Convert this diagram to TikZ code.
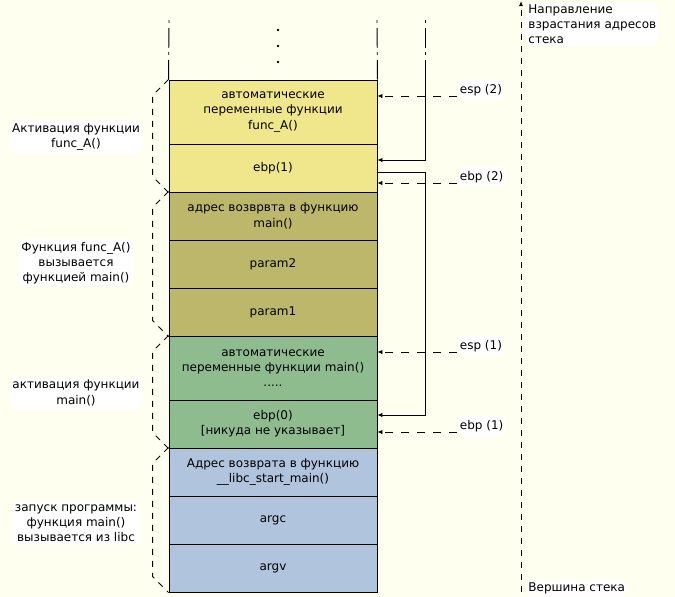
\documentclass[tikz,border=0pt]{standalone}
\usepackage{fontspec}
\setmainfont{DejaVu Sans}
\usetikzlibrary{positioning, calc, arrows.meta}
\definecolor{bgivory}{HTML}{FFFFF0}
\definecolor{frameA}{HTML}{F0E68C}
\definecolor{frameB}{HTML}{BDB76B}
\definecolor{frameC}{HTML}{8FBC8F}
\definecolor{frameD}{HTML}{B0C4DE}

\begin{document}
\begin{tikzpicture}[x=1pt, y=-1pt, line width=0.9pt,
    txt/.style={font=\fontsize{12}{15.2}\selectfont},
    cell/.style={txt, draw, minimum width=208pt, align=center, inner sep=0pt},
    blob/.style={txt, fill=white, rounded corners=7pt, align=center, inner sep=3pt},
    ptrlbl/.style={txt, fill=white, rounded corners=6pt, inner xsep=2pt, inner ysep=4pt},
    ptr/.style={-{Latex[length=5pt,width=4.5pt]}, dash pattern=on 8pt off 8pt},
    lnk/.style={-{Latex[length=5pt,width=4.5pt]}},
    dashdot/.style={dash pattern=on 3pt off 5pt on 20pt off 4pt},
    brace/.style={dash pattern=on 6pt off 6pt}]
    \fill[bgivory] (0,0) rectangle (675,597);
    \useasboundingbox (0,0) rectangle (675,597);

    % the stack cells
    \node[cell, fill=frameA, minimum height=64pt] (fa) at (273,112) {автоматические\\переменные функции\\func\_A()};
    \node[cell, fill=frameA, minimum height=48pt] (ebpA) at (273,168) {ebp(1)};
    \node[cell, fill=frameB, minimum height=48pt] (ret) at (273,216) {адрес возврвта в функцию\\main()};
    \node[cell, fill=frameB, minimum height=48pt] (ptwo) at (273,264) {param2};
    \node[cell, fill=frameB, minimum height=48pt] (pone) at (273,312) {param1};
    \node[cell, fill=frameC, minimum height=64pt] (am) at (273,368) {автоматические\\переменные функции main()\\.....};
    \node[cell, fill=frameC, minimum height=48pt] (ebpm) at (273,424) {ebp(0)\\{[}никуда не указывает{]}};
    \node[cell, fill=frameD, minimum height=48pt] (lret) at (273,472) {Адрес возврата в функцию\\\_\_libc\_start\_main()};
    \node[cell, fill=frameD, minimum height=48pt] (argc) at (273,520) {argc};
    \node[cell, fill=frameD, minimum height=48pt] (argv) at (273,568) {argv};

    % rest of the stack above
    \coordinate (colL) at (169,20);
    \coordinate (colR) at (377,20);
    \coordinate (colP) at (425,20);
    \draw[dashdot] (colL) -- (fa.north west);
    \draw[dashdot] (colR) -- (fa.north east);
    \draw[dashdot] (colP) -- (425,60) coordinate (ptop);
    \foreach \y in {30,46,62}
        \fill (278,\y) circle (1.3pt);

    % saved frame pointers
    \draw[lnk] (ptop) |- ([yshift=8pt]ebpA.east);
    \draw[lnk] ([yshift=-4pt]ebpA.east) -- ++(48,0) |- ([yshift=9pt]ebpm.east);

    % esp / ebp
    \coordinate (esptwoend) at ([xshift=80pt,yshift=16pt]fa.east);
    \coordinate (ebptwoend) at ([xshift=80pt,yshift=-15pt]ebpA.east);
    \coordinate (esponeend) at ([xshift=80pt,yshift=16pt]am.east);
    \coordinate (ebponeend) at ([xshift=80pt,yshift=-8pt]ebpm.east);
    \node[ptrlbl, anchor=base west] (esptwo) at ([yshift=3pt]esptwoend) {esp (2)};
    \node[ptrlbl, anchor=base west] (ebptwo) at ([yshift=3pt]ebptwoend) {ebp (2)};
    \node[ptrlbl, anchor=base west] (espone) at ([yshift=3pt]esponeend) {esp (1)};
    \node[ptrlbl, anchor=base west] (ebpone) at ([yshift=3pt]ebponeend) {ebp (1)};
    \draw[ptr] (esptwoend) -- (esptwoend -| fa.east);
    \draw[ptr] (ebptwoend) -- (ebptwoend -| fa.east);
    \draw[ptr] (esponeend) -- (esponeend -| fa.east);
    \draw[ptr] (ebponeend) -- (ebponeend -| fa.east);

    % frames on the left
    \draw[brace] (fa.north west) -- ++(-16,16) -- ([xshift=-16pt,yshift=16pt]ebpA.south west) -- (ebpA.south west);
    \draw[brace] (ret.north west) -- ++(-16,16) -- ([xshift=-16pt,yshift=16pt]pone.south west) -- (pone.south west);
    \draw[brace] (am.north west) -- ++(-16,16) -- ([xshift=-16pt,yshift=16pt]ebpm.south west) -- (ebpm.south west);
    \draw[brace] (lret.north west) -- ++(-16,16) -- ([xshift=-16pt,yshift=16pt]argv.south west) -- (argv.south west);
    \node[blob] (actA) at (76,137) {Активация функции\\func\_A()};
    \node[blob] (callA) at (76,263) {Функция func\_A()\\вызывается\\функцией main()};
    \node[blob] (actm) at (76,393) {активация функции\\main()};
    \node[blob] (start) at (76,523) {запуск программы:\\функция main()\\вызывается из libc};

    % growth direction
    \coordinate (axbot) at (521,592);
    \coordinate (axtop) at (521,1);
    \draw[brace, -{Latex[length=5pt,width=4pt]}] (axbot) -- (axtop);
    \node[blob, align=left, anchor=north west, inner sep=2pt] (grow) at (526,2) {Направление\\взрастания адресов\\стека};
    \node[blob, anchor=west, inner sep=2pt] (sptop) at (526,588) {Вершина стека};
\end{tikzpicture}
\end{document}
